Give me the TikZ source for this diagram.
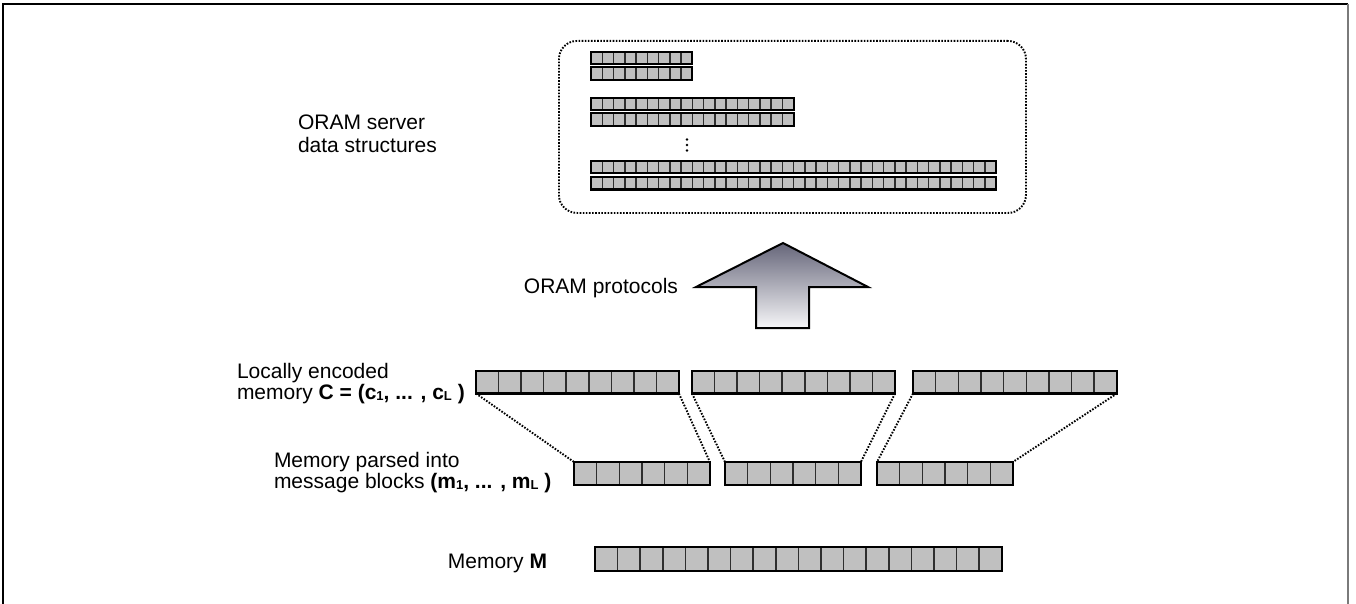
\documentclass[tikz,border=0pt]{standalone}
\usepackage{fontspec}
\setmainfont{Liberation Sans}
\usetikzlibrary{calc}
\definecolor{cellgray}{HTML}{C0C0C0}
\definecolor{divgray}{HTML}{2E2E2E}
\definecolor{arrowtop}{HTML}{66667A}
\definecolor{arrowbot}{HTML}{F6F6F8}
\definecolor{framegray}{HTML}{7A7A7A}
\newcommand{\cellblock}[7]{% name, x, ytop, n, cell width, height, border width
  \node[blkbox, minimum width=#4*#5, minimum height=#6, anchor=north west] (#1) at (#2,#3) {};
  \pgfmathtruncatemacro{\lastcell}{#4-1}
  \foreach \k in {1,...,\lastcell}{\draw[divider] (#2+\k*#5,#3) -- (#2+\k*#5,#3+#6);}
  \draw[line width=#7, black] (#1.north west) rectangle (#1.south east);
}
\newcommand{\sbs}[1]{\raisebox{-1pt}{\fontsize{13}{13}\selectfont\bfseries #1}}
\tikzset{
  blkbox/.style={rectangle, fill=cellgray, draw=none, inner sep=0pt, outer sep=0pt},
  divider/.style={draw=divgray, line width=1.5pt},
  lbl/.style={inner sep=0pt, outer sep=0pt, anchor=base west},
  dotline/.style={line width=1.9pt, dash pattern=on 1.6pt off 1.5pt},
}
\begin{document}
\begin{tikzpicture}[x=1pt, y=-1pt, font=\fontsize{21}{24}\selectfont]
\useasboundingbox (0,0) rectangle (1356,604);
% frame
\draw[line width=2pt] (3,604) -- (3,4) -- (1348,4);
\draw[framegray, line width=2pt] (1348,4) -- (1348,604);
% server box
\node[draw, dotline, rounded corners=18pt, minimum width=467, minimum height=172, anchor=north west, inner sep=0pt] (server) at (558,40) {};
\cellblock{srowa}{591}{52}{9}{11.25}{12.5}{2pt}
\cellblock{srowb}{591}{67.5}{9}{11.25}{12.5}{2pt}
\cellblock{srowc}{591}{98}{18}{11.25}{12.5}{2pt}
\cellblock{srowd}{591}{113.5}{18}{11.25}{12.5}{2pt}
\cellblock{srowe}{591}{161}{36}{11.25}{12.5}{2pt}
\cellblock{srowf}{591}{177}{36}{11.25}{12.5}{2pt}
\foreach \yy in {139.5,145,150.5} \fill (687,\yy) circle (1.3);
\node[lbl] (srvlbla) at (298,130) {ORAM server};
\node[lbl] (srvlblb) at (298,153) {data structures};
% arrow
\path[draw=black, line width=2pt, top color=arrowtop, bottom color=arrowbot, line join=miter]
  (783,243) -- (868,287) -- (809,287) -- (809,328) -- (756,328) -- (756,287) -- (696,287) -- cycle;
\node[lbl, anchor=base east] (protolbl) at (678,293) {ORAM protocols};
% encoded blocks
\cellblock{enca}{476}{371}{9}{22.55}{22.5}{2.6pt}
\cellblock{encb}{692}{371}{9}{22.55}{22.5}{2.6pt}
\cellblock{encc}{913}{371}{9}{22.65}{22.5}{2.6pt}
\node[lbl] (enclbla) at (237,378) {Locally encoded};
\node[lbl] (enclblb) at (237,399) {memory \textbf{C = (c}\sbs{1}\textbf{, ... , c}\sbs{L}\textbf{ )}};
% message blocks
\cellblock{msga}{574}{462}{6}{22.65}{23}{2.6pt}
\cellblock{msgb}{725}{462}{6}{22.65}{23}{2.6pt}
\cellblock{msgc}{877}{462}{6}{22.65}{23}{2.6pt}
\node[lbl] (msglbla) at (274,467) {Memory parsed into};
\node[lbl] (msglblb) at (274,488) {message blocks \textbf{(m}\sbs{1}\textbf{, ... , m}\sbs{L}\textbf{ )}};
% connectors
\draw[dotline] (enca.south west) -- (msga.north west);
\draw[dotline] (enca.south east) -- (msga.north east);
\draw[dotline] (encb.south west) -- (msgb.north west);
\draw[dotline] (encb.south east) -- (msgb.north east);
\draw[dotline] (encc.south west) -- (msgc.north west);
\draw[dotline] (encc.south east) -- (msgc.north east);
% memory M
\cellblock{memm}{595}{547}{18}{22.6}{24}{2.6pt}
\node[lbl, anchor=base east] (memlbl) at (547,568) {Memory \textbf{M}};
\end{tikzpicture}
\end{document}
